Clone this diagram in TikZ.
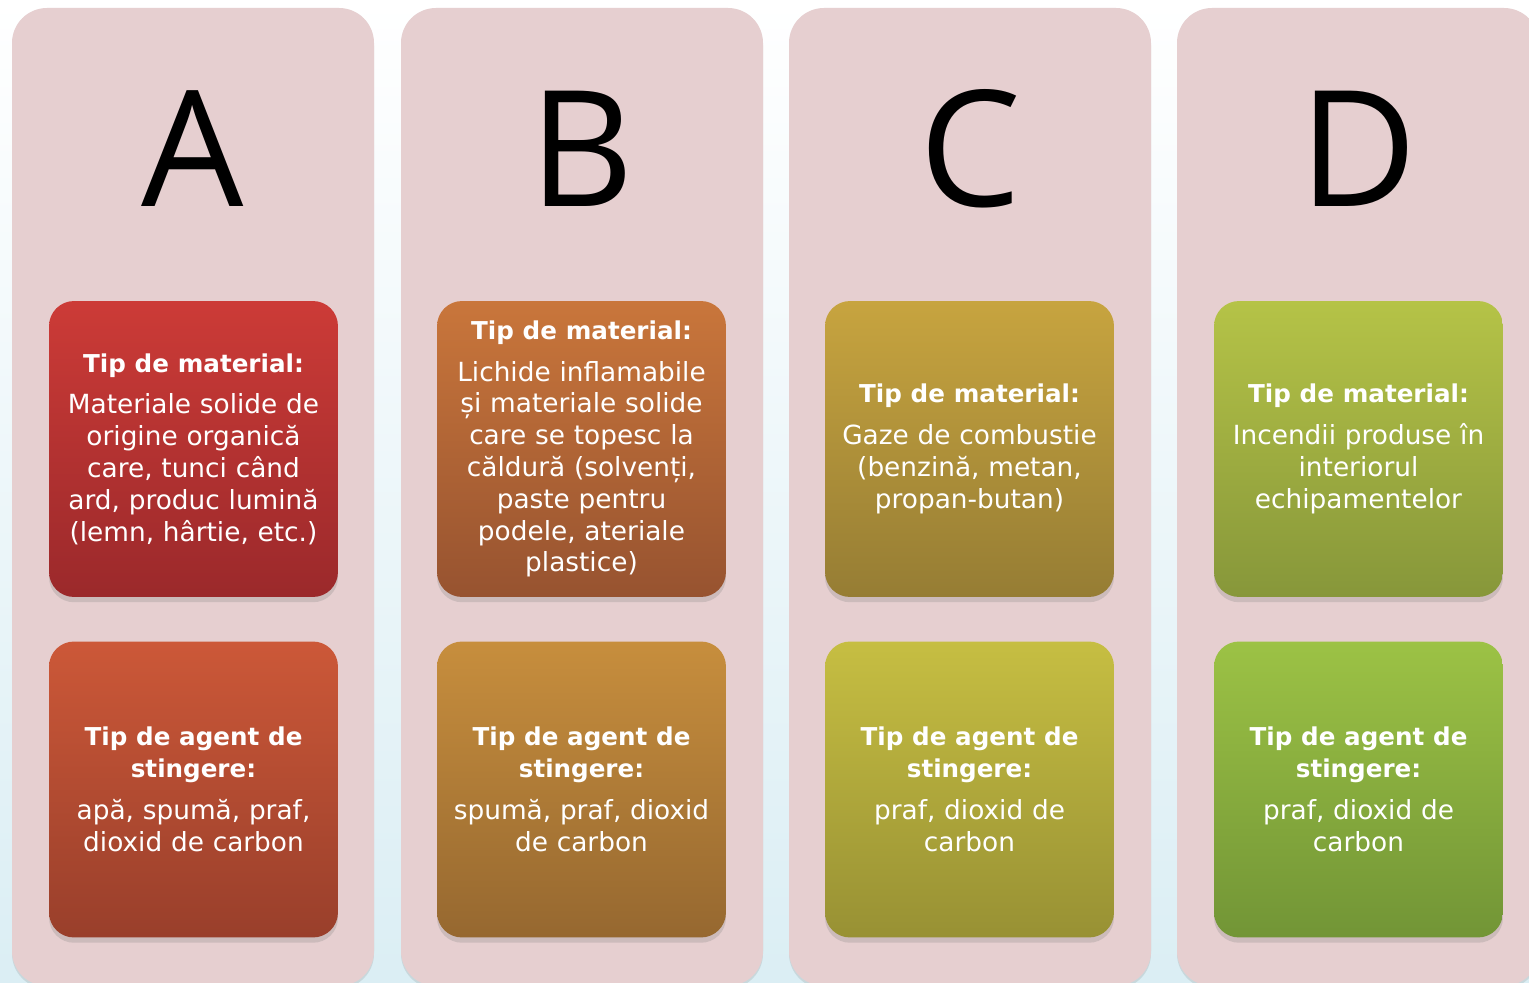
\documentclass[tikz,border=0pt]{standalone}
\usepackage{fontspec}
\setmainfont{DejaVu Sans}
\newfontfamily\letterfont{Open Sans}
\usetikzlibrary{shadows}

\definecolor{panelpink}{HTML}{E6CFD0}
\definecolor{bgblue}{HTML}{DBEEF4}
\definecolor{aTop}{HTML}{CC3B37}\definecolor{aTopB}{HTML}{9B292B}
\definecolor{aBot}{HTML}{CC5838}\definecolor{aBotB}{HTML}{993F2B}
\definecolor{bTop}{HTML}{C9763B}\definecolor{bTopB}{HTML}{975330}
\definecolor{bBot}{HTML}{C78E3D}\definecolor{bBotB}{HTML}{966830}
\definecolor{cTop}{HTML}{C7A43F}\definecolor{cTopB}{HTML}{967D34}
\definecolor{cBot}{HTML}{C6BE42}\definecolor{cBotB}{HTML}{989134}
\definecolor{dTop}{HTML}{B5C347}\definecolor{dTopB}{HTML}{87973A}
\definecolor{dBot}{HTML}{9CC245}\definecolor{dBotB}{HTML}{729536}

\newcommand{\ttl}[1]{{\bfseries\fontsize{14}{18.1}\selectfont #1}}

\tikzset{
  panel/.style={fill=panelpink, rounded corners=0.7cm,
    drop shadow={opacity=0.2, shadow xshift=0pt, shadow yshift=-1.5pt}},
  bigletter/.style={font=\letterfont\fontsize{92}{94}\selectfont, anchor=base, inner sep=0pt},
  card/.style={rounded corners=0.5cm, minimum width=5.78cm, minimum height=5.92cm,
    text width=5.3cm, align=center, text=white, font=\fontsize{15}{18.1}\selectfont,
    drop shadow={opacity=0.25, shadow xshift=0pt, shadow yshift=-3pt}},
}

\begin{document}
\begin{tikzpicture}[x=0.02cm, y=-0.02cm]
  \useasboundingbox (0,0) rectangle (1529,983);
  \clip (0,0) rectangle (1529,983);
  \shade[top color=white, bottom color=bgblue] (0,0) rectangle (1529,983);

  % columns
  \path[panel] (12,8) rectangle (374,986);
  \path[panel] (401,8) rectangle (763,986);
  \path[panel] (789,8) rectangle (1151,986);
  \path[panel] (1177,8) rectangle (1539,986);

  % fire classes
  \node[bigletter] (letA) at (193,207) {A};
  \node[bigletter] (letB) at (582,207) {B};
  \node[bigletter] (letC) at (970,207) {C};
  \node[bigletter] (letD) at (1358,207) {D};

  % type of material
  \node[card, top color=aTop, bottom color=aTopB] (matA) at (193.5,449)
    {\ttl{Tip de material:}\\[5.7pt]
     Materiale solide de\\origine organică\\care, tunci când\\ard, produc lumină\\(lemn, hârtie, etc.)};
  \node[card, top color=bTop, bottom color=bTopB] (matB) at (581.5,449)
    {\ttl{Tip de material:}\\[5.7pt]
     Lichide inflamabile\\și materiale solide\\care se topesc la\\căldură (solvenți,\\paste pentru\\podele, ateriale\\plastice)};
  \node[card, top color=cTop, bottom color=cTopB] (matC) at (969.5,449)
    {\ttl{Tip de material:}\\[5.7pt]
     Gaze de combustie\\(benzină, metan,\\propan-butan)};
  \node[card, top color=dTop, bottom color=dTopB] (matD) at (1358.5,449)
    {\ttl{Tip de material:}\\[5.7pt]
     Incendii produse în\\interiorul\\echipamentelor};

  % extinguishing agent
  \node[card, top color=aBot, bottom color=aBotB] (agA) at (193.5,789.5)
    {\ttl{Tip de agent de}\\\ttl{stingere:}\\[5.7pt]
     apă, spumă, praf,\\dioxid de carbon};
  \node[card, top color=bBot, bottom color=bBotB] (agB) at (581.5,789.5)
    {\ttl{Tip de agent de}\\\ttl{stingere:}\\[5.7pt]
     spumă, praf, dioxid\\de carbon};
  \node[card, top color=cBot, bottom color=cBotB] (agC) at (969.5,789.5)
    {\ttl{Tip de agent de}\\\ttl{stingere:}\\[5.7pt]
     praf, dioxid de\\carbon};
  \node[card, top color=dBot, bottom color=dBotB] (agD) at (1358.5,789.5)
    {\ttl{Tip de agent de}\\\ttl{stingere:}\\[5.7pt]
     praf, dioxid de\\carbon};
\end{tikzpicture}
\end{document}
